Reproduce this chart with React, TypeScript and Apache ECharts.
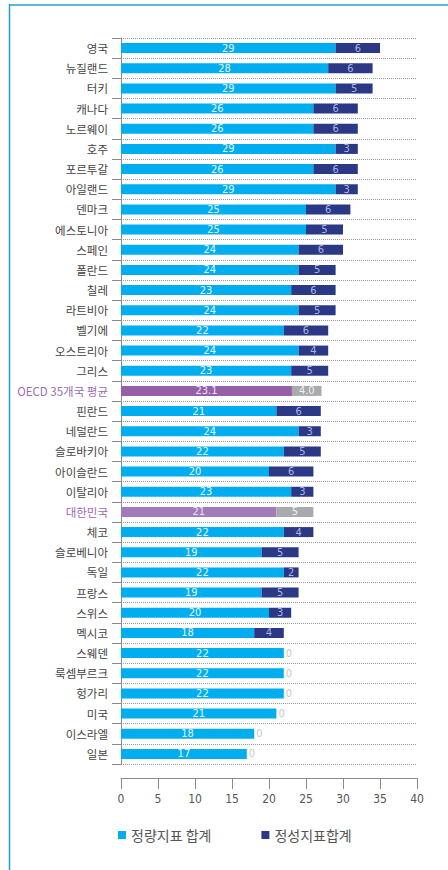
import React, { useEffect, useRef } from "react";
import * as echarts from "echarts";

const countries = [
  "영국", "뉴질랜드", "터키", "캐나다", "노르웨이", "호주", "포르투갈", "아일랜드",
  "덴마크", "에스토니아", "스페인", "폴란드", "칠레", "라트비아", "벨기에", "오스트리아",
  "그리스", "OECD 35개국 평균", "핀란드", "네덜란드", "슬로바키아", "아이슬란드", "이탈리아",
  "대한민국", "체코", "슬로베니아", "독일", "프랑스", "스위스", "멕시코", "스웨덴",
  "룩셈부르크", "헝가리", "미국", "이스라엘", "일본",
];
const quantitative = [
  29, 28, 29, 26, 26, 29, 26, 29, 25, 25, 24, 24, 23, 24, 22, 24, 23, 23.1, 21, 24,
  22, 20, 23, 21, 22, 19, 22, 19, 20, 18, 22, 22, 22, 21, 18, 17,
];
const qualitative = [
  6, 6, 5, 6, 6, 3, 6, 3, 6, 5, 6, 5, 6, 5, 6, 4, 5, 4.0, 6, 3,
  5, 6, 3, 5, 4, 5, 2, 5, 3, 4, 0, 0, 0, 0, 0, 0,
];
const xTicks = { min: 0, max: 40, interval: 5 };
const seriesNames = ["정량지표 합계", "정성지표합계"];
const OECD = "OECD 35개국 평균";
const KOREA = "대한민국";

const NUM_FONT = "'Liberation Sans Narrow', 'DejaVu Sans Condensed', Roboto, sans-serif";
const KR_FONT = "'Noto Sans CJK KR', sans-serif";

export default function App() {
  const ref = useRef<HTMLDivElement>(null);
  useEffect(() => {
    if (!ref.current) return;
    const chart = echarts.init(ref.current, null, { renderer: "svg" });
    const isOecd = (i: number) => countries[i] === OECD;
    const isKorea = (i: number) => countries[i] === KOREA;

    const quantData = quantitative.map((v, i) => {
      const item: any = { value: v };
      if (isOecd(i)) {
        item.itemStyle = { color: "#9560a8" };
        item.label = { color: "#efe2f5" };
      } else if (isKorea(i)) {
        item.itemStyle = { color: "#a27cb9" };
        item.label = { color: "#efe2f5" };
      }
      return item;
    });
    const qualData = qualitative.map((v, i) => {
      const item: any = { value: v };
      if (isOecd(i) || isKorea(i)) {
        item.itemStyle = { color: "#a9aaad" };
        item.label = { color: "#f0f0f0" };
      }
      if (v === 0) {
        item.label = { position: "right", distance: 2, color: "#c8c8c8" };
      }
      return item;
    });

    chart.setOption({
      animation: false,
      backgroundColor: "#ffffff",
      grid: { left: 121, right: 31, top: 38, bottom: 106, outerBoundsMode: "none" },
      xAxis: {
        type: "value",
        min: xTicks.min,
        max: xTicks.max,
        interval: xTicks.interval,
        position: "bottom",
        offset: 14,
        axisLine: { show: true, lineStyle: { color: "#8a8a8a", width: 1 } },
        axisTick: { show: true, length: 11, lineStyle: { color: "#8a8a8a" } },
        axisLabel: { margin: 15, color: "#555", fontSize: 12, fontFamily: NUM_FONT },
        splitLine: { show: false },
      },
      yAxis: {
        type: "category",
        inverse: true,
        data: countries.map((c) => ({
          value: c,
          textStyle: { color: c === OECD || c === KOREA ? "#9a6bb3" : "#444" },
        })),
        axisLine: { show: true, lineStyle: { color: "#8a8a8a", width: 1 } },
        axisTick: { show: true, length: 9, lineStyle: { color: "#8a8a8a" } },
        axisLabel: { margin: 13, fontSize: 11.5, fontFamily: KR_FONT },
        splitLine: { show: true, lineStyle: { type: "dotted", color: "#9a9a9a", width: 1 } },
      },
      legend: {
        left: 118,
        top: 828,
        padding: 0,
        itemGap: 50,
        itemWidth: 8,
        itemHeight: 8,
        icon: "rect",
        textStyle: { fontSize: 14, color: "#555", fontFamily: KR_FONT },
        data: seriesNames,
      },
      series: [
        {
          name: seriesNames[0],
          type: "bar",
          stack: "total",
          barWidth: 10,
          itemStyle: { color: "#00aeef" },
          label: {
            show: true,
            position: "inside",
            color: "#e6f6fe",
            fontSize: 11,
            fontFamily: NUM_FONT,
            formatter: (p: any) => (isOecd(p.dataIndex) ? Number(p.value).toFixed(1) : String(p.value)),
          },
          data: quantData,
        },
        {
          name: seriesNames[1],
          type: "bar",
          stack: "total",
          barWidth: 10,
          itemStyle: { color: "#2b3885" },
          label: {
            show: true,
            position: "inside",
            color: "#aab4e0",
            fontSize: 11,
            fontFamily: NUM_FONT,
            formatter: (p: any) => (isOecd(p.dataIndex) ? Number(p.value).toFixed(1) : String(p.value)),
          },
          data: qualData,
        },
      ],
      graphic: [
        { type: "line", shape: { x1: 9, y1: 5, x2: 448, y2: 5 }, style: { stroke: "#5cbad4", lineWidth: 2 } },
        { type: "line", shape: { x1: 9.5, y1: 4, x2: 9.5, y2: 870 }, style: { stroke: "#1f9fce", lineWidth: 1.5 } },
      ],
    });
    return () => chart.dispose();
  }, []);
  return (
    <div
      ref={ref}
      style={{ position: "absolute", left: 0, top: 0, width: 448, height: 870 }}
    />
  );
}
